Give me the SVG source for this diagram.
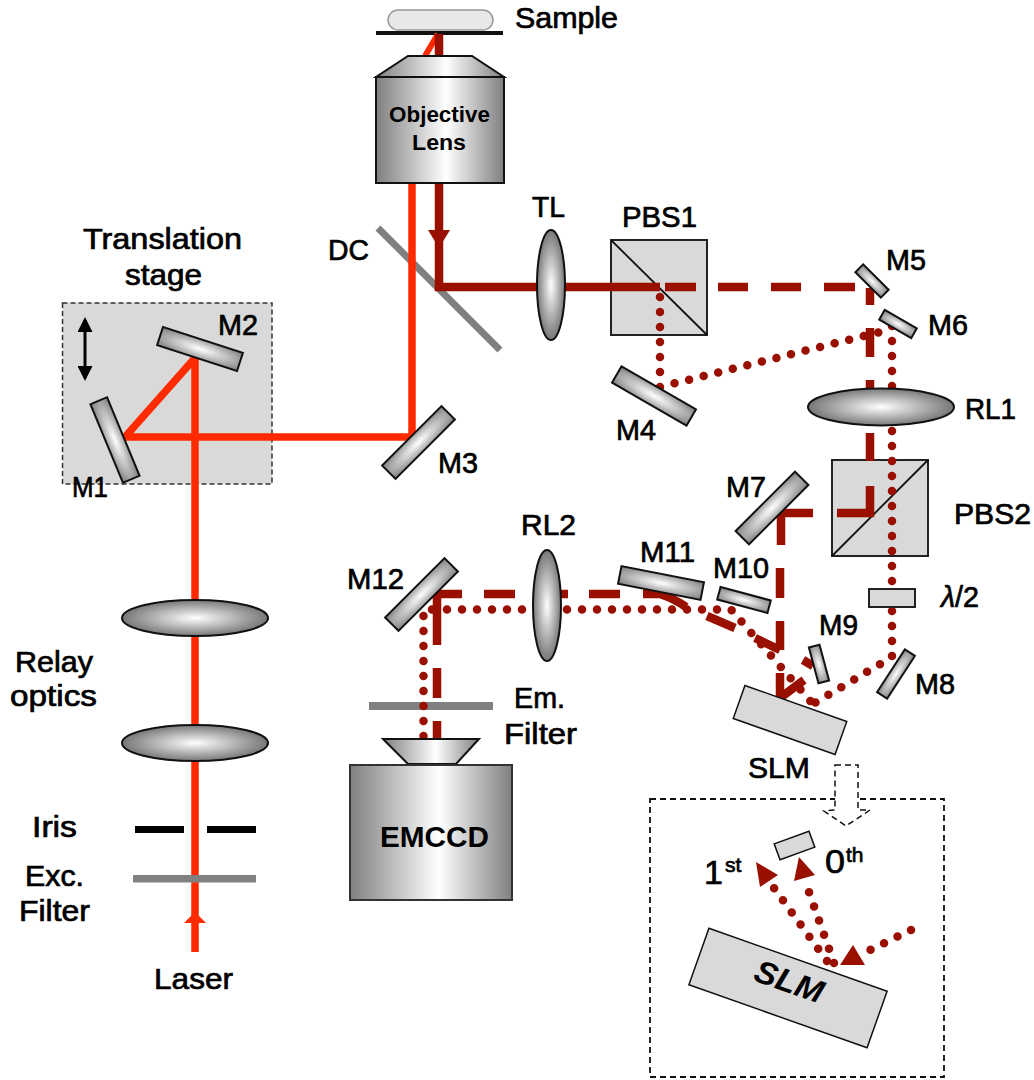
<svg xmlns="http://www.w3.org/2000/svg" width="1034" height="1080" viewBox="0 0 1034 1080">
<style>
text{font-family:"Liberation Sans",Arial,sans-serif;font-size:29px;fill:#000;stroke:#000;stroke-width:.7px}
.b{font-weight:bold;stroke:none}
.small{font-size:21px}
.big{font-size:34px}
.m{stroke:#111;stroke-width:2;fill:url(#mg)}
.l{stroke:#111;stroke-width:2;fill:url(#rg)}
.c{stroke:#222;stroke-width:2;fill:#d9d9d9}
.d{stroke:#111;stroke-width:1.500;fill:#d9d9d9}
.red{fill:none;stroke:#ff2a00;stroke-width:7.500}
.dk{fill:none;stroke:#990f00;stroke-width:8.500}
.dot{fill:none;stroke:#990f00;stroke-width:8.500;stroke-linecap:round;stroke-dasharray:0 15}
.tri{fill:#990f00;stroke:none}
.diag{stroke:#111;stroke-width:1.800;fill:none}
</style>
<defs>
<radialGradient id="rg" cx="50%" cy="50%" r="50%"><stop offset="0" stop-color="#fff"/><stop offset="1" stop-color="#777"/></radialGradient>
<radialGradient id="mg" cx="50%" cy="50%" r="70%"><stop offset="0" stop-color="#fff"/><stop offset="1" stop-color="#7a7a7a"/></radialGradient>
<linearGradient id="lg" x1="0" x2="1" y1="0" y2="0"><stop offset="0" stop-color="#7f7f7f"/><stop offset=".55" stop-color="#fff"/><stop offset="1" stop-color="#7f7f7f"/></linearGradient>
<marker id="ah" viewBox="0 0 10 10" refX="8" refY="5" markerWidth="5" markerHeight="5" orient="auto-start-reverse"><path d="M0 0L10 5L0 10Z" fill="#000"/></marker>
</defs>
<g id="stage"><rect x="62.500" y="303" width="209.500" height="181" fill="#d9d9d9" stroke="#333" stroke-width="1.500" stroke-dasharray="5 3"/></g>
<g id="stage-arrow"><line x1="85" y1="320" x2="85" y2="378" stroke="#000" stroke-width="3" marker-start="url(#ah)" marker-end="url(#ah)"/></g>
<g id="sample"><rect x="388" y="10" width="105" height="20" rx="10" fill="#e8e8e8" stroke="#999" stroke-width="1.500"/><line x1="376" y1="33" x2="503" y2="33" stroke="#111" stroke-width="4"/></g>
<g id="dc"><line x1="378" y1="228" x2="500" y2="350" stroke="#808080" stroke-width="7"/></g>
<g id="pbs1"><rect class="c" x="611" y="240" width="96" height="95"/><line class="diag" x1="611" y1="240" x2="707" y2="335"/></g>
<g id="pbs2"><rect class="c" x="832" y="460" width="96" height="96"/><line class="diag" x1="832" y1="556" x2="928" y2="460"/></g>
<g id="em-filter"><rect x="369" y="702" width="124" height="8" fill="#808080"/></g>
<g id="connectors">
<path class="red" d="M195 952V358L125 437H412V183"/>
<path class="red" style="stroke-width:6" d="M425 56L438 34"/>
<path class="tri" style="fill:#ff2a00" d="M195 912L206 923H184Z"/>
<path class="dk" d="M439 34V56M439 183V287H660"/>
<path class="tri" d="M428 230H450L439 248Z"/>
<path class="dk" d="M665 287H696M718 287H748M771 287H801M824 287H855M870 288V305M870 328V357M870 380V390M870 433V461M870 486V517M874 513H837M813 513H776M781 510V545M780 568V598M780 621V650M780 673V698L804 680M813 666L803 660M780 650L755 638M735 628L707 616M686 607Q675 599 660 594H643M620 594H589M568 594H560M515 594H484M462 594H427M437 598V645M437 668V698M437 721V738"/>
<path class="dot" d="M660 297V387L880 332"/>
<path class="dot" d="M892 326V657L813 704"/>
<path class="dot" d="M423.500 736V609.500H731L813 704"/>
<path class="dot" d="M911 930L870 950"/>
<path class="dot" d="M827 961L774 888"/>
<path class="dot" d="M834 963L809 892"/>
<path class="tri" d="M853 945L840 965H865ZM756 862L778 875L760 887ZM799 857L815 875L794 881Z"/>
</g>
<g id="exc-filter-line"><rect x="133" y="875" width="123" height="7.500" fill="#808080"/></g>
<g id="objective"><path d="M408 56H472L504 77H376Z" fill="url(#lg)" stroke="#111" stroke-width="2"/><rect x="376" y="77" width="128" height="106" fill="url(#lg)" stroke="#111" stroke-width="2"/><text class="b" x="389" y="122" style="font-size:22px" textLength="101" lengthAdjust="spacingAndGlyphs">Objective</text><text class="b" x="412" y="150" style="font-size:22px" textLength="54" lengthAdjust="spacingAndGlyphs">Lens</text></g>
<g id="tl"><ellipse class="l" cx="551" cy="285" rx="14" ry="55"/></g>
<g id="rl1"><ellipse class="l" cx="881" cy="407" rx="73" ry="18.500"/></g>
<g id="rl2"><ellipse class="l" cx="547" cy="605.500" rx="14" ry="55.500"/></g>
<g id="relay1"><ellipse class="l" cx="195" cy="618" rx="73" ry="18"/></g>
<g id="relay2"><ellipse class="l" cx="195" cy="743" rx="73" ry="18"/></g>
<g id="m1"><rect class="m" x="-42.500" y="-9" width="85" height="18" transform="translate(115 440) rotate(67.500)"/></g>
<g id="m2"><rect class="m" x="-42" y="-9.500" width="84" height="19" transform="translate(200 349) rotate(18)"/></g>
<g id="m3"><rect class="m" x="-42" y="-9.500" width="84" height="19" transform="translate(418.500 442.500) rotate(-45)"/></g>
<g id="m4"><rect class="m" x="-43" y="-9.500" width="86" height="19" transform="translate(654 396) rotate(30)"/></g>
<g id="m5"><rect class="m" x="-18" y="-5.500" width="36" height="11" transform="translate(872 281) rotate(45)"/></g>
<g id="m6"><rect class="m" x="-18.500" y="-5.500" width="37" height="11" transform="translate(898 324) rotate(30)"/></g>
<g id="m7"><rect class="m" x="-42" y="-9.500" width="84" height="19" transform="translate(772 508) rotate(-45)"/></g>
<g id="m8"><rect class="m" x="-25.500" y="-6" width="51" height="12" transform="translate(896 674) rotate(-57)"/></g>
<g id="m9"><rect class="m" x="-18.500" y="-5.500" width="37" height="11" transform="translate(819 664) rotate(75)"/></g>
<g id="m10"><rect class="m" x="-26" y="-6.500" width="52" height="13" transform="translate(744 600) rotate(15)"/></g>
<g id="m11"><rect class="m" x="-42" y="-9" width="84" height="18" transform="translate(661 583) rotate(11)"/></g>
<g id="m12"><rect class="m" x="-42" y="-9.500" width="84" height="19" transform="translate(421.500 594.500) rotate(-45)"/></g>
<g id="half-wave"><rect class="c" x="869" y="589" width="46" height="18"/></g>
<g id="slm"><rect class="d" x="-54" y="-17.500" width="108" height="35" transform="translate(790 720) rotate(19.500)"/></g>
<g id="emccd"><path d="M383 739H479L456 764H408Z" fill="url(#lg)" stroke="#111" stroke-width="2"/><rect x="350" y="765" width="162" height="135" fill="url(#lg)" stroke="#333" stroke-width="2"/><text class="b" x="380" y="847" textLength="109" lengthAdjust="spacingAndGlyphs">EMCCD</text></g>
<g id="iris"><path d="M135 829.500H184M207 829.500H256" stroke="#000" stroke-width="7" fill="none"/></g>
<g id="inset"><rect x="650" y="799" width="294" height="278" fill="none" stroke="#111" stroke-width="1.800" stroke-dasharray="6 4"/></g>
<g id="slm-arrow"><path d="M835 765H858V810L870 810L846 826L824 811L835 810Z" fill="#fff" stroke="#111" stroke-width="1.500" stroke-dasharray="6 4"/></g>
<g id="inset-mirror"><rect class="d" x="-18.500" y="-8.500" width="37" height="17" transform="translate(794.500 845.500) rotate(-20)"/></g>
<g id="inset-slm"><rect class="d" x="-94.500" y="-30" width="189" height="60" transform="translate(788 988) rotate(19.500)"/><text class="b" transform="translate(752 980) rotate(19.500)" style="font-style:italic;font-size:32px" textLength="71" lengthAdjust="spacingAndGlyphs">SLM</text></g>
<g id="labels">
<text x="515" y="28" textLength="103" lengthAdjust="spacingAndGlyphs">Sample</text>
<text x="532" y="217" textLength="33" lengthAdjust="spacingAndGlyphs">TL</text>
<text x="622" y="227" textLength="75" lengthAdjust="spacingAndGlyphs">PBS1</text>
<text x="328" y="260" textLength="41" lengthAdjust="spacingAndGlyphs">DC</text>
<text x="83" y="249" textLength="159" lengthAdjust="spacingAndGlyphs">Translation</text>
<text x="125" y="285" textLength="77" lengthAdjust="spacingAndGlyphs">stage</text>
<text x="218" y="335" textLength="40" lengthAdjust="spacingAndGlyphs">M2</text>
<text x="72" y="497" textLength="36" lengthAdjust="spacingAndGlyphs">M1</text>
<text x="438" y="473" textLength="40" lengthAdjust="spacingAndGlyphs">M3</text>
<text x="616" y="440" textLength="40" lengthAdjust="spacingAndGlyphs">M4</text>
<text x="886" y="270" textLength="40" lengthAdjust="spacingAndGlyphs">M5</text>
<text x="928" y="335" textLength="40" lengthAdjust="spacingAndGlyphs">M6</text>
<text x="965" y="419" textLength="51" lengthAdjust="spacingAndGlyphs">RL1</text>
<text x="954" y="524" textLength="77" lengthAdjust="spacingAndGlyphs">PBS2</text>
<text x="726" y="497" textLength="40" lengthAdjust="spacingAndGlyphs">M7</text>
<text x="640" y="562" textLength="55" lengthAdjust="spacingAndGlyphs">M11</text>
<text x="713" y="578" textLength="56" lengthAdjust="spacingAndGlyphs">M10</text>
<text x="819" y="635" textLength="39" lengthAdjust="spacingAndGlyphs">M9</text>
<text x="915" y="694" textLength="40" lengthAdjust="spacingAndGlyphs">M8</text>
<text x="941" y="607" textLength="38" lengthAdjust="spacingAndGlyphs"><tspan font-style="italic">λ</tspan>/2</text>
<text x="748" y="778" textLength="62" lengthAdjust="spacingAndGlyphs">SLM</text>
<text x="521" y="535" textLength="55" lengthAdjust="spacingAndGlyphs">RL2</text>
<text x="347" y="589" textLength="57" lengthAdjust="spacingAndGlyphs">M12</text>
<text x="514" y="708" textLength="51" lengthAdjust="spacingAndGlyphs">Em.</text>
<text x="504" y="744" textLength="73" lengthAdjust="spacingAndGlyphs">Filter</text>
<text x="15" y="672" textLength="78" lengthAdjust="spacingAndGlyphs">Relay</text>
<text x="10" y="706" textLength="87" lengthAdjust="spacingAndGlyphs">optics</text>
<text x="32" y="837" textLength="45" lengthAdjust="spacingAndGlyphs">Iris</text>
<text x="25" y="886" textLength="59" lengthAdjust="spacingAndGlyphs">Exc.</text>
<text x="19" y="921" textLength="71" lengthAdjust="spacingAndGlyphs">Filter</text>
<text x="154" y="989" textLength="79" lengthAdjust="spacingAndGlyphs">Laser</text>
<text class="big" x="704" y="884">1</text><text class="small" x="725" y="872">st</text>
<text class="big" x="825" y="873" textLength="20" lengthAdjust="spacingAndGlyphs">0</text><text class="small" x="846" y="862">th</text>
</g>
</svg>
